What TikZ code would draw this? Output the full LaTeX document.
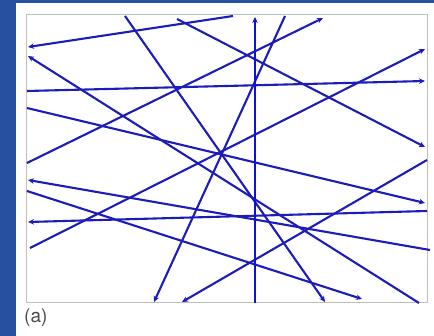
\documentclass[tikz,border=0pt]{standalone}
\usepackage{fontspec}
\setsansfont{TeX Gyre Heros}
\usepackage{tikz}
\usetikzlibrary{arrows.meta}
\definecolor{slideB}{RGB}{40,80,160}
\definecolor{rayB}{RGB}{28,28,185}
\definecolor{rayV}{RGB}{15,15,225}
\definecolor{frameG}{RGB}{190,190,190}

\begin{document}
\begin{tikzpicture}[x=1pt, y=-1pt,
  ray/.style={rayB, line width=2.1pt, -{Stealth[length=6pt, width=5.5pt]}}]
% ---- slide background ----
\fill[slideB] (0,0) rectangle (434,336);
\fill[white] (16,3) rectangle (434,336);
\useasboundingbox (0,0) rectangle (434,336);
% ---- plot frame ----
\draw[frameG, line width=1pt] (26,15) rectangle (427,303);
% ---- random rays: start -> tip ----
\foreach \xa/\ya/\xb/\yb in {233/16/28/47, 125/16/325/302, 177/19/425/147,
  419/303/28/56, 27/91/425/81, 27/108/425/203, 27/163/323/18,
  285/16/154/302, 30/248/425/49, 427/160/182/302, 430/250/28/180,
  27/191/362/299, 427/211/28/222}{
  \draw[ray] (\xa,\ya) -- (\xb,\yb);}
% the vertical one is a bit brighter
\draw[ray, rayV, line width=2.5pt] (255,303) -- (255,17);
% ---- label ----
\node[font=\sffamily\fontsize{19}{21}\selectfont, text=black!70, anchor=west,
  inner sep=0pt] (lbl) at (24,318) {(a)};
\end{tikzpicture}
\end{document}
